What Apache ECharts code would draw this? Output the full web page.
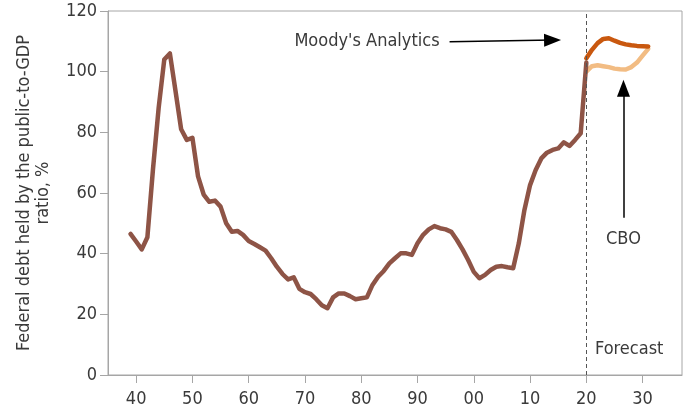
<!DOCTYPE html>
<html>
<head>
<meta charset="utf-8">
<script src="https://cdn.jsdelivr.net/npm/echarts@6/dist/echarts.min.js"></script>
<style>
  html, body { margin: 0; padding: 0; background: #fff; }
  #chart { width: 687px; height: 408px; }
</style>
</head>
<body>
<div id="chart"></div>
<script>
// history, 1939-2020
const historyStart = 1939;
const historyValues = [
  46.5, 44, 41.4, 45.4, 68, 88, 104, 106, 93.6, 81,
  77.5, 78.2, 65.5, 59.5, 57.1, 57.5, 55.5, 50, 47.2, 47.5,
  46.2, 44.2, 43.2, 42.1, 41, 38.5, 35.7, 33.3, 31.5, 32.2,
  28.4, 27.3, 26.7, 25, 23, 22, 25.6, 26.9, 26.9, 26,
  25, 25.3, 25.6, 29.7, 32.4, 34.3, 36.8, 38.5, 40.1, 40.1,
  39.6, 43.4, 46.2, 48, 49.1, 48.4, 48, 47.2, 44.5, 41.4,
  37.9, 34, 31.9, 33, 34.6, 35.7, 35.9, 35.5, 35.2, 43.4,
  54.4, 62.6, 67.6, 71.4, 73.3, 74.2, 74.7, 76.7, 75.5, 77.5,
  79.7, 103
];

// forecasts, 2020-2031
const forecastStart = 2020;
const moodysValues = [104.4, 107.2, 109.4, 110.8, 111, 110.2, 109.5, 109, 108.7, 108.5, 108.4, 108.3];
const cboValues = [100, 101.8, 102.1, 101.8, 101.5, 101, 100.8, 100.7, 101.5, 103, 105.3, 107.5];

const xTickYears = [1940, 1950, 1960, 1970, 1980, 1990, 2000, 2010, 2020, 2030];
const forecastYear = 2020;

function toPairs(start, values) {
  return values.map(function (v, i) { return [start + i, v]; });
}

const font = '"DejaVu Sans Condensed", "DejaVu Sans", sans-serif';
const textColor = '#3a3a3a';
const axisColor = '#a6a6a6';

const chart = echarts.init(document.getElementById('chart'));
chart.setOption({
  animation: false,
  textStyle: { fontFamily: font },
  grid: {
    left: 108,
    right: 5,
    top: 11,
    bottom: 33,
    show: true,
    borderColor: axisColor,
    borderWidth: 1
  },
  xAxis: {
    type: 'value',
    min: 1935,
    max: 2037,
    splitLine: { show: false },
    axisLine: { lineStyle: { color: axisColor } },
    axisTick: { customValues: xTickYears, length: 8, lineStyle: { color: axisColor } },
    axisLabel: {
      customValues: xTickYears,
      margin: 15,
      color: textColor,
      fontSize: 18,
      fontFamily: font,
      formatter: function (v) { return String(v % 100).padStart(2, '0'); }
    }
  },
  yAxis: {
    type: 'value',
    min: 0,
    max: 120,
    interval: 20,
    name: 'Federal debt held by the public-to-GDP\nratio, %',
    nameLocation: 'middle',
    nameGap: 55,
    nameTextStyle: { color: textColor, fontSize: 18, fontFamily: font, lineHeight: 19 },
    splitLine: { show: false },
    axisLine: { show: true, lineStyle: { color: axisColor } },
    axisTick: { show: true, length: 8, lineStyle: { color: axisColor } },
    axisLabel: { margin: 11, color: textColor, fontSize: 18, fontFamily: font }
  },
  series: [
    {
      name: 'CBO',
      type: 'line',
      data: toPairs(forecastStart, cboValues),
      showSymbol: false,
      lineStyle: { color: '#F2BC83', width: 4.5, join: 'round', cap: 'round' },
      markLine: {
        silent: true,
        symbol: ['none', 'triangle'],
        symbolSize: [13, 17],
        lineStyle: { color: '#000', width: 1.5, type: 'solid' },
        label: {
          show: true,
          position: 'start',
          distance: 12,
          color: textColor,
          fontSize: 18,
          fontFamily: font,
          formatter: 'CBO'
        },
        data: [[{ coord: [2026.6, 51.8] }, { coord: [2026.6, 94.5] }]]
      }
    },
    {
      name: "Moody's Analytics",
      type: 'line',
      data: toPairs(forecastStart, moodysValues),
      showSymbol: false,
      lineStyle: { color: '#C9580F', width: 4.5, join: 'round', cap: 'round' },
      markLine: {
        silent: true,
        symbol: ['none', 'triangle'],
        symbolSize: [13, 17],
        lineStyle: { color: '#000', width: 1.5, type: 'solid' },
        label: {
          show: true,
          position: 'start',
          distance: 10,
          color: textColor,
          fontSize: 18,
          fontFamily: font,
          formatter: "Moody's Analytics"
        },
        data: [[{ coord: [1995.7, 109.9] }, { coord: [2014.0, 110.4] }]]
      }
    },
    {
      name: 'History',
      type: 'line',
      data: toPairs(historyStart, historyValues),
      showSymbol: false,
      lineStyle: { color: '#8E5446', width: 4.5, join: 'round', cap: 'round' },
      markLine: {
        silent: true,
        symbol: ['none', 'none'],
        lineStyle: { color: '#555', width: 1, type: [4, 3] },
        label: { show: false },
        data: [{ xAxis: forecastYear }]
      }
    }
  ],
  graphic: [
    {
      type: 'text',
      left: 595,
      top: 340,
      style: { text: 'Forecast', fill: textColor, fontSize: 18, fontFamily: font }
    }
  ]
});
</script>
</body>
</html>
